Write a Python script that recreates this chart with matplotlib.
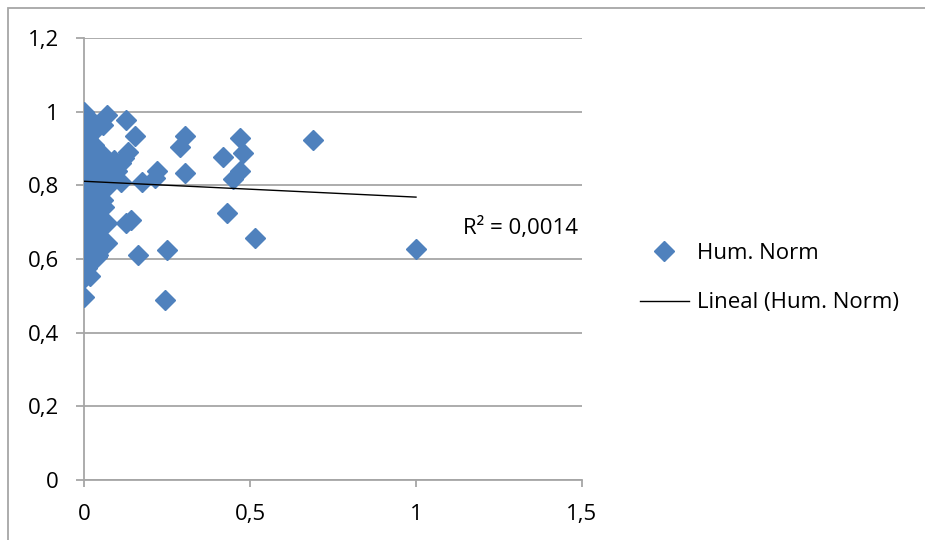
import matplotlib
matplotlib.use('Agg')
import matplotlib.pyplot as plt
from matplotlib.patches import Rectangle

# Hum. Norm data (x = value, y = Hum. Norm)
col_y = [1.0, 0.985, 0.972, 0.958, 0.945, 0.932, 0.92, 0.906, 0.895, 0.882,
         0.87, 0.858, 0.848, 0.836, 0.826, 0.815, 0.804, 0.793, 0.782, 0.771,
         0.76, 0.749, 0.738, 0.727, 0.716, 0.705, 0.694, 0.683, 0.672, 0.661,
         0.65, 0.64, 0.63, 0.619, 0.608, 0.597, 0.586, 0.575, 0.562, 0.548,
         0.497]
col_x = [0.0] * len(col_y)

near_x = [0.008, 0.012, 0.01, 0.014, 0.009, 0.012, 0.01, 0.015, 0.018,
          0.011, 0.013, 0.02, 0.016, 0.01, 0.012, 0.008, 0.025, 0.02, 0.03,
          0.022, 0.018]
near_y = [0.965, 0.93, 0.9, 0.87, 0.84, 0.81, 0.78, 0.75, 0.72,
          0.69, 0.66, 0.63, 0.6, 0.575, 0.885, 0.76, 0.975, 0.94, 0.91,
          0.85, 0.555]

mid_x = [0.03, 0.035, 0.03, 0.04, 0.035, 0.04, 0.038, 0.045, 0.05, 0.057,
         0.069, 0.068, 0.068, 0.06, 0.08, 0.09, 0.1, 0.11, 0.12, 0.133,
         0.095, 0.11, 0.08, 0.07, 0.06, 0.04, 0.05, 0.045, 0.03, 0.055,
         0.073, 0.042, 0.025, 0.028, 0.085, 0.1]
mid_y = [0.955, 0.87, 0.83, 0.78, 0.72, 0.67, 0.606, 0.86, 0.82, 0.76,
         0.795, 0.697, 0.643, 0.74, 0.85, 0.87, 0.84, 0.86, 0.875, 0.89,
         0.82, 0.81, 0.83, 0.86, 0.88, 0.81, 0.7, 0.65, 0.69, 0.79,
         0.85, 0.61, 0.745, 0.64, 0.815, 0.855]

far_x = [0.068, 0.057, 0.128, 0.154, 0.219, 0.214, 0.174, 0.304, 0.289,
         0.304, 0.419, 0.47, 0.479, 0.47, 0.449, 0.43, 0.515, 0.143, 0.128,
         0.163, 0.249, 0.244, 0.69, 1.0]
far_y = [0.99, 0.963, 0.977, 0.935, 0.84, 0.82, 0.808, 0.933, 0.904,
         0.833, 0.877, 0.928, 0.887, 0.84, 0.817, 0.725, 0.658, 0.706, 0.697,
         0.61, 0.624, 0.488, 0.923, 0.627]

hum_x = col_x + near_x + mid_x + far_x
hum_y = col_y + near_y + mid_y + far_y

# linear trend line as drawn in the chart
trend_x = [0.0, 1.0]
trend_y = [0.811, 0.768]
r2_text = 'R² = 0,0014'

x_ticks = [0, 0.5, 1, 1.5]
x_ticklabels = ['0', '0,5', '1', '1,5']
y_ticks = [0, 0.2, 0.4, 0.6, 0.8, 1.0, 1.2]
y_ticklabels = ['0', '0,2', '0,4', '0,6', '0,8', '1', '1,2']

plt.rcParams['font.family'] = ['Open Sans', 'DejaVu Sans']
FS = 16

W, H = 925, 540
fig = plt.figure(figsize=(W / 100, H / 100), dpi=100)
ax = fig.add_axes([84 / W, 1 - 480 / H, (582 - 84) / W, (480 - 38) / H])

grid_col = '#a6a6a6'
blue = '#4f81bd'

ax.plot(hum_x, hum_y, linestyle='none', marker='D', markersize=10,
        color=blue, markeredgecolor=blue, label='Hum. Norm', zorder=3)
ax.plot(trend_x, trend_y, color='black', linewidth=1.0,
        label='Lineal (Hum. Norm)', zorder=4)

ax.set_xlim(0, 1.5)
ax.set_ylim(0, 1.2)
ax.set_xticks(x_ticks)
ax.set_xticklabels(x_ticklabels)
ax.set_yticks(y_ticks)
ax.set_yticklabels(y_ticklabels)
ax.yaxis.grid(True, color=grid_col, linewidth=1.3)
ax.set_axisbelow(True)

for side in ['top', 'right']:
    ax.spines[side].set_visible(False)
for side in ['left', 'bottom']:
    ax.spines[side].set_color(grid_col)
    ax.spines[side].set_linewidth(1.3)

ax.tick_params(axis='both', colors=grid_col, labelcolor='black',
               labelsize=FS, width=1.3)
ax.tick_params(axis='y', length=6, pad=12)
ax.tick_params(axis='x', length=5, pad=12)

fig.text(463 / W, 1 - 228 / H, r2_text, fontsize=FS, ha='left', va='center')

fig.legend(loc='center left', bbox_to_anchor=(640 / W, 1 - 278 / H),
           frameon=False, fontsize=FS, borderpad=0, borderaxespad=0,
           handlelength=2.2, handletextpad=0.35, labelspacing=1.3)

# chart area border (cut off at right/bottom in the reference)
fig.add_artist(Rectangle((8 / W, -0.1), 1.0, 1.1 - 8 / H,
                         transform=fig.transFigure, fill=False,
                         edgecolor=grid_col, linewidth=1.3, clip_on=False))

fig.savefig('out.png', dpi=100)
